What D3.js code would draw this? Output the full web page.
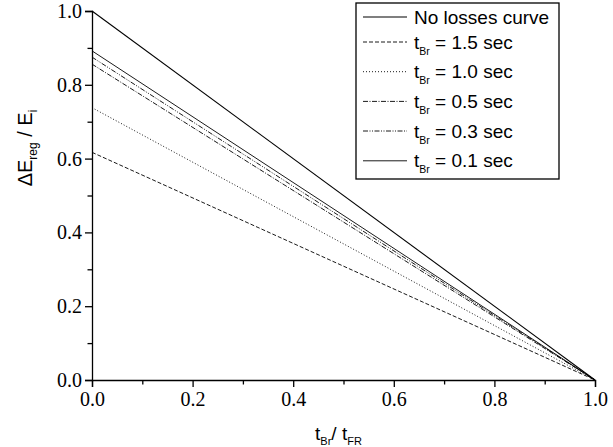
<!DOCTYPE html>
<html>
<head>
<meta charset="utf-8">
<script src="https://cdn.jsdelivr.net/npm/d3@7"></script>
<style>
  html, body { margin: 0; padding: 0; background: #fff; }
  svg { display: block; }
</style>
</head>
<body>
<svg id="chart" width="613" height="447"></svg>
<script>
// ---- data ----
const seriesNames = ["No losses curve", "1.5", "1.0", "0.5", "0.3", "0.1"];
const startValues = [1.0, 0.617, 0.738, 0.856, 0.875, 0.892]; // ΔE_reg/E_i at t_Br/t_FR = 0
const endValues   = [0.0, 0.0, 0.0, 0.0, 0.0, 0.0];           // at t_Br/t_FR = 1
const xPoints = [0.0, 1.0];
const majorTicks = [0.0, 0.2, 0.4, 0.6, 0.8, 1.0];
const minorTicks = [0.1, 0.3, 0.5, 0.7, 0.9];

// ---- styles (not data) ----
const dashes = [null, "4,2", "1,2", "5,1.5,1,1.5", "5,1.5,1,1.5,1,1.5", null];
const widths = [1.1, 0.9, 0.9, 0.9, 0.9, 0.9];
const SERIF = "Liberation Serif";
const SANS = "Liberation Sans";

const svg = d3.select("#chart");
const margin = {left: 92, right: 18, top: 11, bottom: 67};
const W = 613, H = 447;
const x = d3.scaleLinear().domain([0, 1]).range([margin.left, W - margin.right]);
const y = d3.scaleLinear().domain([0, 1]).range([H - margin.bottom, margin.top]);

// lines
const line = d3.line().x(d => x(d[0])).y(d => y(d[1]));
seriesNames.forEach((n, i) => {
  const pts = [[xPoints[0], startValues[i]], [xPoints[1], endValues[i]]];
  svg.append("path").datum(pts)
    .attr("d", line).attr("fill", "none").attr("stroke", "#000")
    .attr("stroke-width", widths[i])
    .attr("stroke-dasharray", dashes[i]);
});

// axes
const xAxis = svg.append("g").attr("transform", `translate(0,${y(0)})`)
  .call(d3.axisBottom(x).tickValues(majorTicks).tickFormat(d3.format(".1f")).tickSize(7).tickPadding(5));
const xMinor = svg.append("g").attr("transform", `translate(0,${y(0)})`)
  .call(d3.axisBottom(x).tickValues(minorTicks).tickFormat("").tickSize(4.5));
const yAxis = svg.append("g").attr("transform", `translate(${x(0)},0)`)
  .call(d3.axisLeft(y).tickValues(majorTicks).tickFormat(d3.format(".1f")).tickSize(7).tickPadding(3));
const yMinor = svg.append("g").attr("transform", `translate(${x(0)},0)`)
  .call(d3.axisLeft(y).tickValues(minorTicks).tickFormat("").tickSize(4.5));

[xAxis, xMinor, yAxis, yMinor].forEach(g => {
  g.selectAll(".domain").attr("stroke", "#000").attr("stroke-width", 1.3);
  g.selectAll(".tick line").attr("stroke", "#000").attr("stroke-width", 1.3);
  g.selectAll("text").style("font-family", SERIF).style("font-size", "20px").attr("fill", "#000");
});
xMinor.select(".domain").remove();
yMinor.select(".domain").remove();

// axis titles
const xt = svg.append("text").attr("x", x(0.49)).attr("y", 440)
  .attr("text-anchor", "middle").style("font-family", SANS).style("font-size", "19px");
xt.append("tspan").text("t");
xt.append("tspan").style("font-size", "11px").attr("baseline-shift", "-5").text("Br");
xt.append("tspan").text("/ t");
xt.append("tspan").style("font-size", "11px").attr("baseline-shift", "-5").text("FR");

const yt = svg.append("text").attr("transform", "translate(32,148) rotate(-90)")
  .attr("text-anchor", "middle").style("font-family", SANS).style("font-size", "20px");
yt.append("tspan").text("ΔE");
yt.append("tspan").style("font-size", "12px").attr("baseline-shift", "-5").text("reg");
yt.append("tspan").text(" / E");
yt.append("tspan").style("font-size", "12px").attr("baseline-shift", "-5").text("i");

// legend
const lg = svg.append("g");
lg.append("rect").attr("x", 356).attr("y", 3).attr("width", 203).attr("height", 176)
  .attr("fill", "#fff").attr("stroke", "#000").attr("stroke-width", 1.3);
const rowY = [17, 42, 71.7, 101.4, 131, 160.8];
seriesNames.forEach((n, i) => {
  lg.append("line").attr("x1", 363).attr("x2", 407).attr("y1", rowY[i]).attr("y2", rowY[i])
    .attr("stroke", "#000").attr("stroke-width", widths[i]).attr("stroke-dasharray", dashes[i]);
  const t = lg.append("text").attr("x", 414).attr("y", rowY[i] + 6.5)
    .style("font-family", SANS).style("font-size", "19px").attr("fill", "#000");
  if (i === 0) {
    t.text(n);
  } else {
    t.append("tspan").text("t");
    t.append("tspan").style("font-size", "10.5px").attr("baseline-shift", "-6").text("Br");
    t.append("tspan").text(" = " + n + " sec");
  }
});
</script>
</body>
</html>
